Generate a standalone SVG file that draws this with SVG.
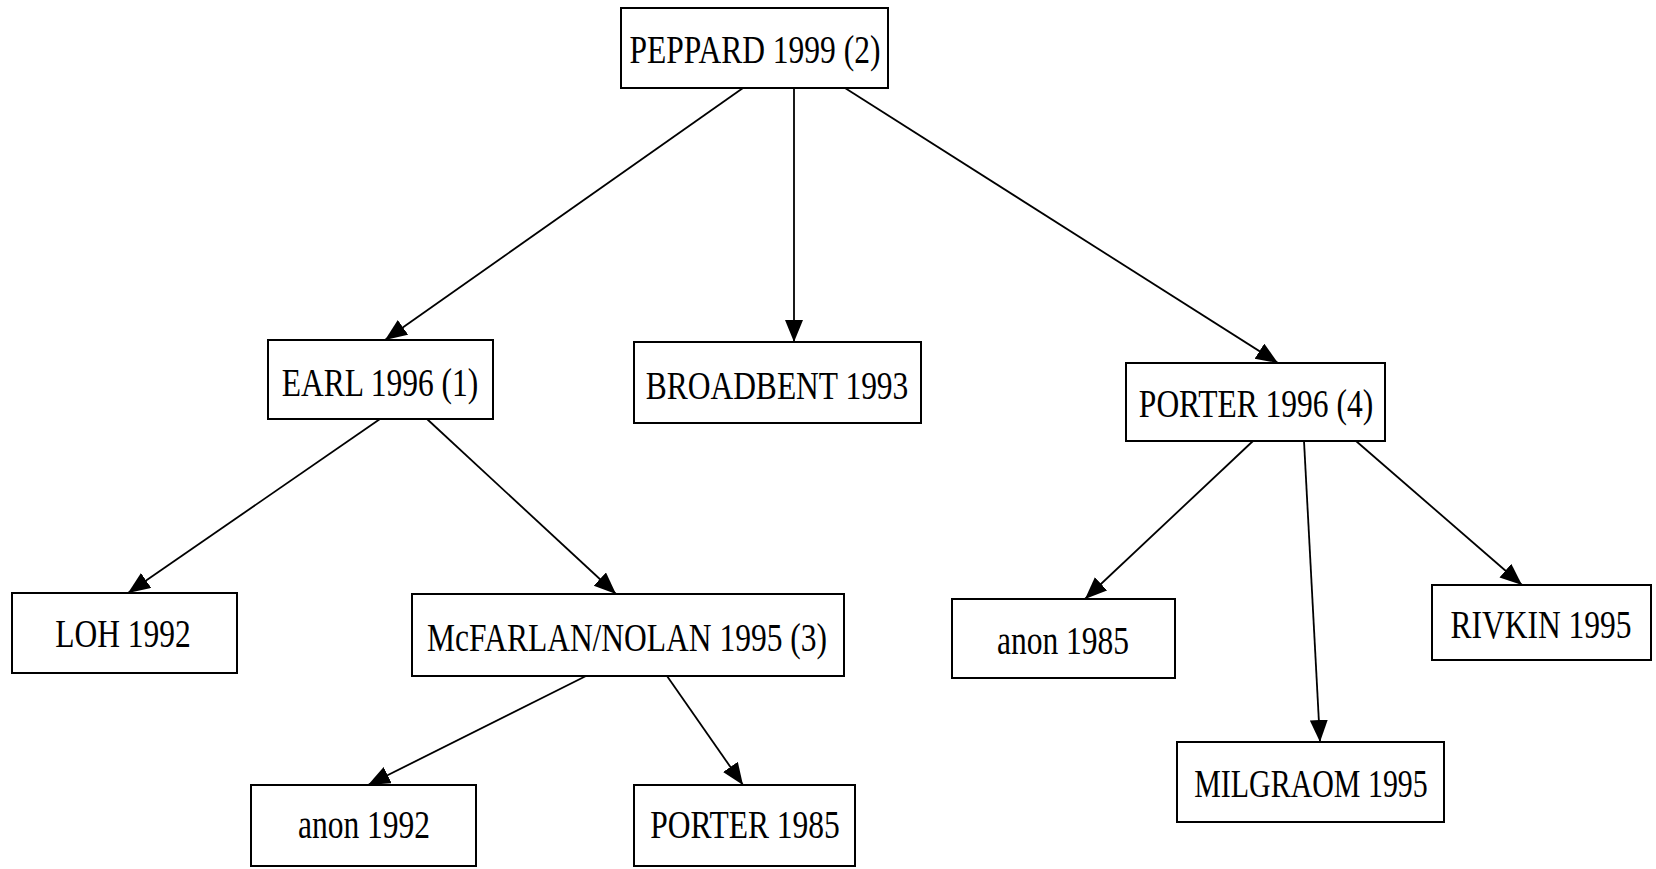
<svg xmlns="http://www.w3.org/2000/svg" width="1656" height="869" viewBox="0 0 1656 869">
<style>
.box{fill:#fff;stroke:#000;stroke-width:2}
.lbl{font-family:"Liberation Serif","Times New Roman",serif;font-size:31.5px;fill:#000;text-anchor:middle}
.edge{stroke:#000;stroke-width:1.8;fill:none;marker-end:url(#arr)}
</style>
<defs>
<marker id="arr" markerUnits="userSpaceOnUse" markerWidth="24" markerHeight="20" refX="22" refY="9" orient="auto">
<path d="M0,0 L22,9 L0,18 z" fill="#000"/>
</marker>
</defs>
<rect width="1656" height="869" fill="#fff"/>
<g id="connectors">
<line class="edge" x1="743" y1="88" x2="385" y2="340"/>
<line class="edge" x1="794" y1="88" x2="794" y2="342"/>
<line class="edge" x1="845" y1="88" x2="1278" y2="363"/>
<line class="edge" x1="380" y1="419" x2="128" y2="593"/>
<line class="edge" x1="427" y1="419" x2="616" y2="594"/>
<line class="edge" x1="1253" y1="441" x2="1085" y2="599"/>
<line class="edge" x1="1304" y1="441" x2="1320" y2="742"/>
<line class="edge" x1="1356" y1="441" x2="1522" y2="585"/>
<line class="edge" x1="586" y1="676" x2="368" y2="785"/>
<line class="edge" x1="667" y1="676" x2="743" y2="785"/>
</g>
<g id="peppard"><rect class="box" x="621" y="8" width="267" height="80"/><text class="lbl" transform="translate(755,63) scale(1,1.25)">PEPPARD 1999 (2)</text></g>
<g id="earl"><rect class="box" x="268" y="340" width="225" height="79"/><text class="lbl" transform="translate(380,396) scale(1,1.25)">EARL 1996 (1)</text></g>
<g id="broadbent"><rect class="box" x="634" y="342" width="287" height="81"/><text class="lbl" transform="translate(777,399) scale(1,1.25)">BROADBENT 1993</text></g>
<g id="porter1996"><rect class="box" x="1126" y="363" width="259" height="78"/><text class="lbl" transform="translate(1256,417) scale(1,1.25)">PORTER 1996 (4)</text></g>
<g id="loh"><rect class="box" x="12" y="593" width="225" height="80"/><text class="lbl" transform="translate(123,647) scale(1,1.25)">LOH 1992</text></g>
<g id="mcfarlan"><rect class="box" x="412" y="594" width="432" height="82"/><text class="lbl" transform="translate(627,651) scale(1,1.25)">McFARLAN/NOLAN 1995 (3)</text></g>
<g id="anon1985"><rect class="box" x="952" y="599" width="223" height="79"/><text class="lbl" transform="translate(1063,654) scale(1,1.25)">anon 1985</text></g>
<g id="rivkin"><rect class="box" x="1432" y="585" width="219" height="75"/><text class="lbl" transform="translate(1541,638) scale(1,1.25)">RIVKIN 1995</text></g>
<g id="milgraom"><rect class="box" x="1177" y="742" width="267" height="80"/><text class="lbl" transform="translate(1311,797) scale(0.95,1.25)">MILGRAOM 1995</text></g>
<g id="anon1992"><rect class="box" x="251" y="785" width="225" height="81"/><text class="lbl" transform="translate(364,838) scale(1,1.25)">anon 1992</text></g>
<g id="porter1985"><rect class="box" x="634" y="785" width="221" height="81"/><text class="lbl" transform="translate(745,838) scale(1,1.25)">PORTER 1985</text></g>
</svg>
